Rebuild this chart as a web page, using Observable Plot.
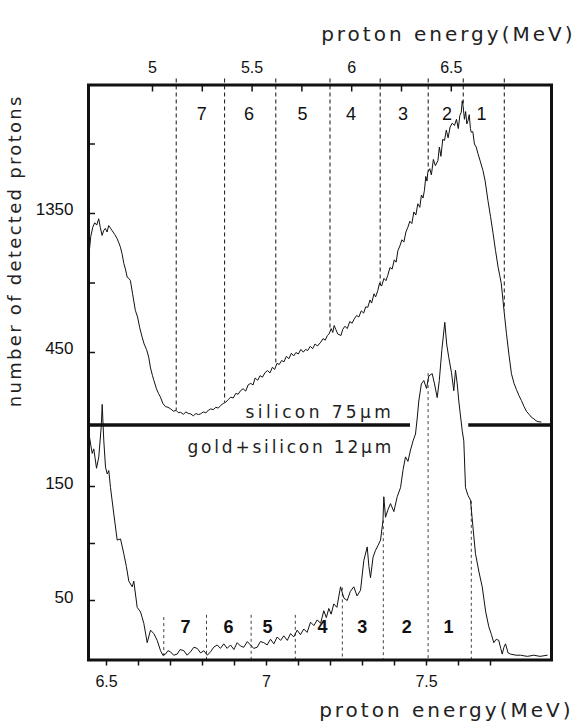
<!DOCTYPE html>
<html><head><meta charset="utf-8">
<script src="https://cdn.jsdelivr.net/npm/d3@7"></script>
<script src="https://cdn.jsdelivr.net/npm/@observablehq/plot@0.6"></script>
<style>
body{margin:0;background:#fff;}
#chart{position:relative;width:583px;height:725px;background:#fff;overflow:hidden;}
#chart svg{position:absolute;left:0;top:0;}
</style></head><body><div id="chart"></div>
<script>
// ---------- DATA ----------
// silicon 75 µm spectrum (upper panel): proton energy (MeV), counts
const siliconE = [4.683,4.690,4.700,4.710,4.720,4.730,4.738,4.747,4.755,4.763,4.772,4.780,4.789,4.797,4.810,4.822,4.831,4.839,4.848,4.856,4.864,4.873,4.881,4.889,4.900,4.914,4.925,4.936,4.948,4.958,4.970,4.981,4.990,5.000,5.007,5.020,5.030,5.040,5.052,5.065,5.078,5.091,5.105,5.119,5.130,5.141,5.155,5.168,5.180,5.191,5.205,5.218,5.230,5.242,5.255,5.268,5.280,5.292,5.305,5.318,5.330,5.342,5.355,5.368,5.380,5.393,5.405,5.418,5.430,5.443,5.455,5.468,5.480,5.493,5.505,5.515,5.528,5.540,5.552,5.565,5.577,5.590,5.602,5.613,5.625,5.636,5.648,5.660,5.672,5.685,5.697,5.709,5.720,5.732,5.745,5.757,5.768,5.779,5.792,5.804,5.816,5.828,5.845,5.856,5.867,5.878,5.887,5.897,5.905,5.912,5.920,5.930,5.946,5.955,5.966,5.978,5.990,6.002,6.013,6.025,6.036,6.048,6.060,6.070,6.081,6.092,6.100,6.112,6.120,6.131,6.140,6.150,6.162,6.172,6.181,6.192,6.203,6.214,6.223,6.232,6.242,6.252,6.262,6.272,6.282,6.292,6.302,6.312,6.322,6.332,6.342,6.350,6.358,6.365,6.372,6.378,6.382,6.392,6.400,6.410,6.420,6.433,6.440,6.448,6.457,6.466,6.475,6.484,6.494,6.505,6.516,6.526,6.535,6.543,6.550,6.555,6.559,6.566,6.572,6.578,6.584,6.590,6.596,6.600,6.608,6.616,6.625,6.634,6.645,6.659,6.670,6.684,6.697,6.710,6.722,6.735,6.743,6.751,6.764,6.777,6.790,6.802,6.815,6.827,6.840,6.852,6.865,6.877,6.890,6.902,6.915,6.925,6.936,6.950];
const siliconC = [1110,1200,1261,1290,1275,1316,1260,1208,1240,1253,1230,1272,1255,1240,1215,1188,1160,1132,1085,1026,990,938,930,916,830,722,680,610,549,505,470,420,350,300,269,215,185,161,120,100,95,85,70,75,60,63,50,65,55,53,40,55,48,53,65,60,75,85,80,95,90,107,120,128,145,161,155,185,180,204,215,200,240,250,240,285,270,300,290,320,333,318,355,340,380,372,398,390,425,410,445,428,450,440,470,452,470,463,490,475,505,492,517,540,530,560,571,605,580,625,600,570,560,600,620,605,650,640,668,690,680,720,705,745,743,790,770,830,810,851,900,880,930,915,949,1000,990,1050,1035,1110,1140,1180,1165,1230,1261,1300,1285,1360,1340,1413,1390,1470,1450,1499,1590,1560,1617,1640,1600,1700,1660,1693,1780,1720,1830,1823,1890,1840,1910,1935,1920,1960,1900,1985,2006,2080,2049,1960,2010,1930,1952,1990,1900,1876,1880,1800,1780,1737,1690,1628,1560,1434,1330,1219,1110,1002,950,895,730,571,430,312,250,210,170,139,100,70,50,31,20,8,2,0];

// gold + silicon 12 µm spectrum (lower panel): proton energy (MeV), counts
const goldE = [6.447,6.4553,6.4603,6.4688,6.4759,6.4834,6.4866,6.4916,6.4969,6.5022,6.5072,6.5125,6.5228,6.5334,6.5438,6.5541,6.5620,6.5697,6.5803,6.5853,6.5959,6.6063,6.6166,6.6272,6.6375,6.6478,6.6584,6.6688,6.6760,6.6844,6.6920,6.7000,6.7100,6.7209,6.7300,6.7416,6.7520,6.7625,6.7730,6.7834,6.7940,6.8041,6.8150,6.8250,6.8350,6.8459,6.8560,6.8666,6.8770,6.8875,6.8980,6.9084,6.9190,6.9291,6.9400,6.9500,6.9600,6.9709,6.9810,6.9916,7.0020,7.0125,7.0230,7.0334,7.0440,7.0541,7.0650,7.0750,7.0850,7.0959,7.1060,7.1166,7.1270,7.1375,7.1480,7.1584,7.1690,7.1791,7.1870,7.1947,7.2020,7.2103,7.2200,7.2313,7.2420,7.2522,7.2620,7.2728,7.2830,7.2938,7.3041,7.3147,7.3200,7.3250,7.3330,7.3406,7.3480,7.3563,7.3640,7.3666,7.3719,7.3800,7.3875,7.3980,7.4084,7.4188,7.4270,7.4344,7.4420,7.4500,7.4580,7.4656,7.4710,7.4759,7.4840,7.4916,7.5000,7.5072,7.5178,7.5250,7.5334,7.5400,7.5480,7.5572,7.5630,7.5697,7.5780,7.5853,7.5906,7.5960,7.6009,7.6116,7.6166,7.6219,7.6300,7.6375,7.6450,7.6531,7.6640,7.6741,7.6850,7.6947,7.7030,7.7103,7.7180,7.7259,7.7320,7.7366,7.7420,7.7469,7.7550,7.7625,7.7800,7.7938,7.8150,7.8353,7.8550,7.8772];
const goldC = [193,179,183,166,176,202,222,190,167,161,164,149,126,103,104,91,80,67,62,67,44,40,30,13,24,21,15,6,2,3,6,5,2,3,7,6,2,5,9,8,4,6,2,5,9,11,8,12,8,11,7,13,10,9,14,11,8,9,14,13,11,16,12,18,15,19,15,21,18,24,20,25,22,31,28,33,30,41,35,43,38,47,44,62,52,50,58,62,54,59,85,97,80,70,88,94,98,103,120,141,123,130,135,128,141,149,165,176,172,182,190,196,210,225,240,243,236,247,249,240,228,243,270,294,275,263,250,234,252,240,225,199,190,149,142,138,115,91,75,62,40,27,20,13,16,15,8,3,9,12,4,3,2,2,1,2,1,2];

// range (layer) boundaries, dashed: energy and count where each dash meets the curve
const siliconCutE = [5.119,5.362,5.619,5.891,6.143,6.384,6.560,6.766];
const siliconCutC = [75,125,375,590,870,1617,2040,720];
const siliconCutTop = 2221;   // dashes start just above the upper frame
const goldCutE = [6.679,6.8125,6.952,7.090,7.237,7.365,7.505,7.640];
const goldCutC = [35,37,37,37,61,120,249,137];
const goldCutBottom = -2;     // dashes end on the lower frame

// layer numbers
const zoneLabels = ["7","6","5","4","3","2","1"];
const siliconZoneE = [5.247,5.485,5.753,5.996,6.257,6.478,6.651];
const goldZoneE = [6.747,6.881,7.003,7.175,7.299,7.438,7.569];

// axes
const topTicks = [5,5.25,5.5,5.75,6,6.25,6.5];
const topTickLabels = [5,5.5,6,6.5];
const bottomTicks = [6.5,6.6,6.7,6.8,6.9,7,7.1,7.2,7.3,7.4,7.5,7.6,7.7];
const bottomTickLabels = [6.5,7,7.5];
const siliconYTicks = [450,900,1350,1800];
const siliconYLabels = [450,1350];
const goldYTicks = [50,100,150];
const goldYLabels = [50,150];

// separator between the panels (lower-panel counts), broken where the peak crosses it
const separatorLevel = 204;
const separatorFrom = [6.444, 7.632];
const separatorTo = [7.45, 7.891];

const xTitle = "proton energy(MeV)";
const yTitle = "number of detected protons";
const siliconName = "silicon 75\u00b5m";
const goldName = "gold+silicon 12\u00b5m";

// ---------- LAYOUT ----------
const W = 583, H = 725;
const box = {left: 88, right: 551, top: 84.5, mid: 424, bottom: 659.5};
const ink = "#111";
const baseStyle = {background: "transparent", overflow: "visible", fontFamily: "'Liberation Sans', Arial, sans-serif", fontSize: "16px", color: ink};
const titleFont = "'DejaVu Sans', 'Noto Sans', sans-serif";
const titleWeight = 400;
const titleInk = "#222";
const fmt = d => String(d);

const silicon = siliconE.map((e, i) => ({e, c: siliconC[i]}));
const gold = goldE.map((e, i) => ({e, c: goldC[i]}));
const siliconCuts = siliconCutE.map((e, i) => ({e, c: siliconCutC[i]}));
const goldCuts = goldCutE.map((e, i) => ({e, c: goldCutC[i]}));
const siliconZones = siliconZoneE.map((e, i) => ({e, label: zoneLabels[i]}));
const goldZones = goldZoneE.map((e, i) => ({e, label: zoneLabels[i]}));
const separator = separatorFrom.map((a, i) => ({a, b: separatorTo[i], y: separatorLevel}));

const bottomPlot = Plot.plot({
  width: W, height: H,
  marginLeft: box.left, marginRight: W - box.right, marginTop: box.top, marginBottom: H - box.bottom,
  style: baseStyle,
  x: {domain: [6.5, 7.5], range: [106, 426]},
  y: {domain: [0, 150], range: [657, 486]},
  marks: [
    Plot.frame({stroke: ink, strokeWidth: 3}),
    Plot.ruleY(separator, {y: "y", x1: "a", x2: "b", stroke: ink, strokeWidth: 3.5}),
    Plot.ruleX(goldCuts, {x: "e", y1: "c", y2: goldCutBottom, stroke: ink, strokeWidth: 0.8, strokeDasharray: "3,3"}),
    Plot.line(gold, {x: "e", y: "c", stroke: ink, strokeWidth: 1}),
    Plot.axisX({anchor: "bottom", ticks: bottomTicks, tickSize: 6, tickPadding: 10, strokeWidth: 1.5, label: null,
      tickFormat: d => bottomTickLabels.includes(d) ? String(d) : "", fontSize: 16}),
    Plot.tickY(goldYTicks, {y: d => d, insetRight: (box.right - box.left) - 7, stroke: ink, strokeWidth: 1.5}),
    Plot.axisY({anchor: "left", ticks: goldYLabels, tickFormat: fmt, tickSize: 0, tickPadding: 15, label: null, dy: -3, fontSize: 17}),
    Plot.text(goldZones, {x: "e", text: "label", frameAnchor: "bottom", dy: -27, fontSize: 18, fontWeight: "bold", fill: ink}),
    Plot.text([siliconName], {text: d => d, frameAnchor: "top-left", textAnchor: "start", dx: 157, dy: 321, fontSize: 17, fontFamily: titleFont, fontWeight: titleWeight, fill: titleInk}),
    Plot.text([goldName], {text: d => d, frameAnchor: "top-left", textAnchor: "start", dx: 99, dy: 356, fontSize: 17, fontFamily: titleFont, fontWeight: titleWeight, fill: titleInk}),
    Plot.text([xTitle], {text: d => d, frameAnchor: "bottom-right", dx: 22, dy: 57, textAnchor: "end", fontSize: 20, fontFamily: titleFont, fontWeight: titleWeight, fill: titleInk})
  ]
});

const topPlot = Plot.plot({
  width: W, height: H,
  marginLeft: box.left, marginRight: W - box.right, marginTop: box.top, marginBottom: H - box.mid,
  style: baseStyle,
  x: {domain: [5, 6.5], range: [152, 450.8]},
  y: {domain: [0, 1350], range: [421.5, 213]},
  marks: [
    Plot.ruleX(siliconCuts, {x: "e", y1: siliconCutTop, y2: "c", stroke: ink, strokeWidth: 1, strokeDasharray: "4,3"}),
    Plot.line(silicon, {x: "e", y: "c", stroke: ink, strokeWidth: 1}),
    Plot.tickX(topTicks, {x: d => d, insetBottom: (box.mid - box.top) - 7, stroke: ink, strokeWidth: 1.5}),
    Plot.axisX({anchor: "top", ticks: topTickLabels, tickFormat: fmt, tickSize: 0, tickPadding: 12, label: null, fontSize: 16}),
    Plot.tickY(siliconYTicks, {y: d => d, insetRight: (box.right - box.left) - 7, stroke: ink, strokeWidth: 1.5}),
    Plot.axisY({anchor: "left", ticks: siliconYLabels, tickFormat: fmt, tickSize: 0, tickPadding: 15, label: null, dy: -4, fontSize: 17}),
    Plot.text(siliconZones, {x: "e", text: "label", frameAnchor: "top", dy: 22, fontSize: 18, fill: ink}),
    Plot.text([xTitle], {text: d => d, frameAnchor: "top-right", dx: 24, dy: -58, textAnchor: "end", fontSize: 20, fontFamily: titleFont, fontWeight: titleWeight, fill: titleInk}),
    Plot.text([yTitle], {text: d => d, frameAnchor: "left", textAnchor: "middle", dx: -73, dy: -4, rotate: -90, fontSize: 18, fontFamily: titleFont, fontWeight: titleWeight, fill: titleInk})
  ]
});

const chart = document.getElementById("chart");
chart.appendChild(bottomPlot);
chart.appendChild(topPlot);

// letter spacing of the hand-lettered titles
const spacing = new Map([[xTitle, 3.0], [yTitle, 2.3], [siliconName, 3.4], [goldName, 2.8]]);
d3.select(chart).selectAll("text").each(function () {
  const s = spacing.get(this.textContent);
  if (s != null) this.setAttribute("letter-spacing", s);
});
</script>
</body></html>
